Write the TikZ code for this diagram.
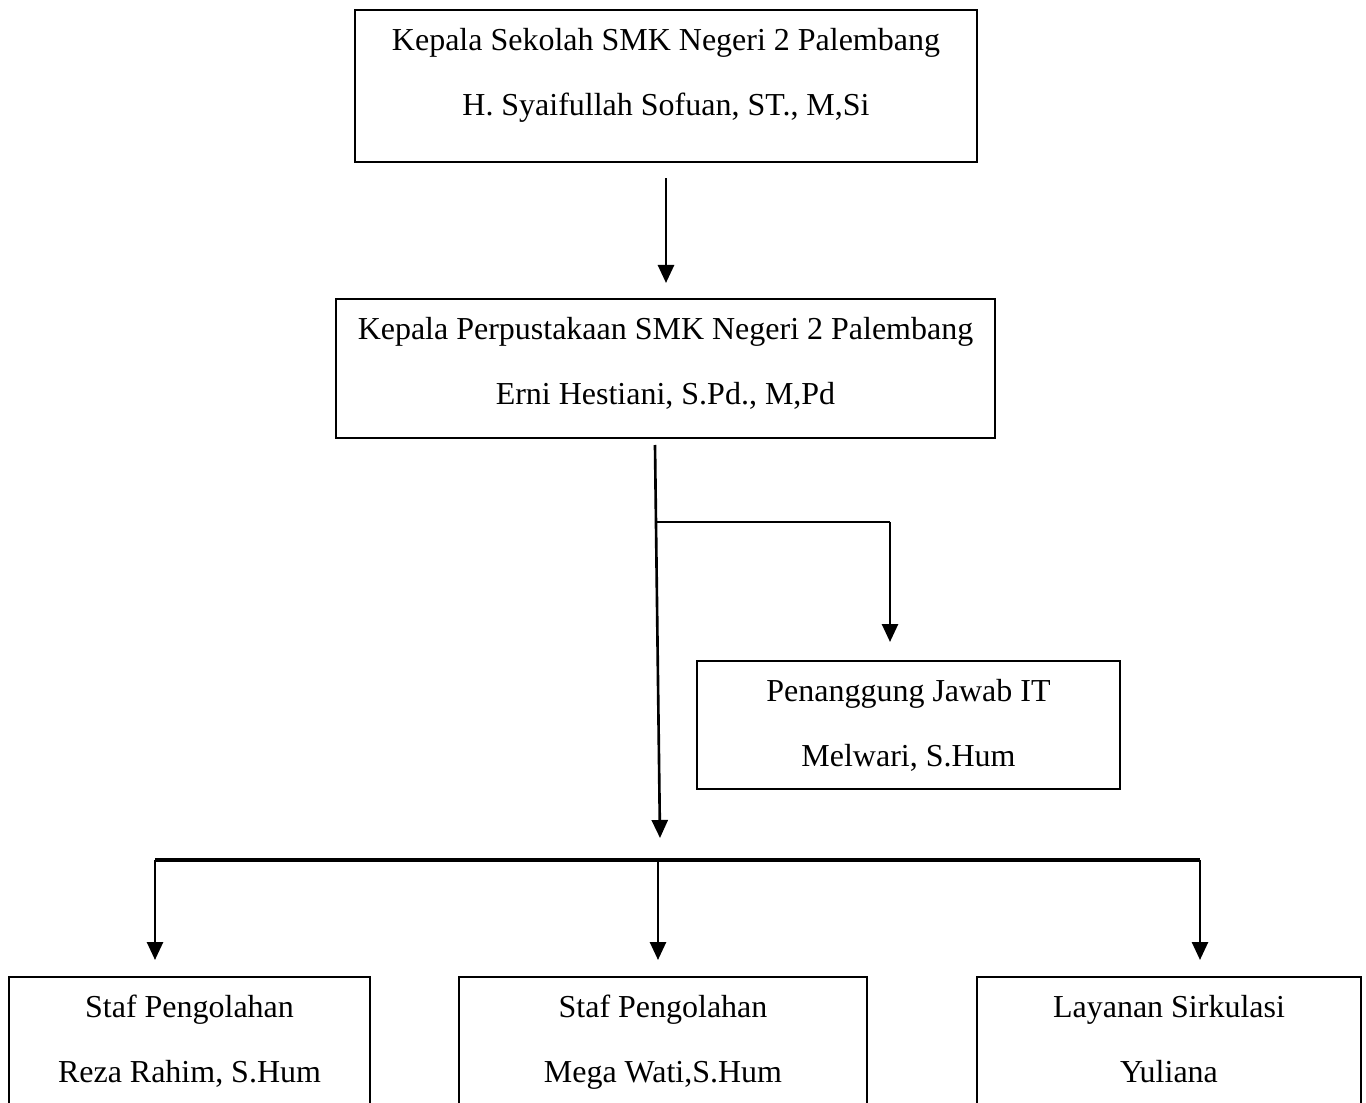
\documentclass[tikz,border=0pt]{standalone}
\usepackage{fontspec}
\setmainfont{Liberation Serif}
\usetikzlibrary{arrows.meta,calc}

\begin{document}
\begin{tikzpicture}[every node/.style={
    rectangle,
    draw,
    line width=1.2pt,
    align=center,
    anchor=north,
    inner ysep=0.3cm,
    text height=1.805cm,
    font=\fontsize{18.2}{37}\selectfont
},
arrowline/.style={-{Triangle[length=0.36cm,width=0.32cm]}, line width=1.5pt},
plainline/.style={line width=1.5pt},
barline/.style={line width=1.9pt}]
    \useasboundingbox (0,0) rectangle (27.32,-22.06);

    %pimpinan
    \node (kepala_sekolah) [minimum width=12.44cm, text depth=0.64cm, shift={(13.32, -0.18)}]
    {
        Kepala Sekolah SMK Negeri 2 Palembang\\
        H. Syaifullah Sofuan, ST., M,Si
    };
    \node (kepala_perpus) [minimum width=13.18cm, text depth=0.38cm, shift={(13.31, -5.96)}]
    {
        Kepala Perpustakaan SMK Negeri 2 Palembang\\
        Erni Hestiani, S.Pd., M,Pd
    };

    %penanggung jawab
    \node (penanggung_it) [minimum width=8.46cm, text depth=0.16cm, shift={(18.17, -13.2)}]
    {
        Penanggung Jawab IT\\
        Melwari, S.Hum
    };

    %staf
    \node (staf_reza) [minimum width=7.22cm, text depth=1.28cm, shift={(3.79, -19.52)}]
    {
        Staf Pengolahan\\
        Reza Rahim, S.Hum
    };
    \node (staf_mega) [minimum width=8.16cm, text depth=1.28cm, shift={(13.26, -19.52)}]
    {
        Staf Pengolahan\\
        Mega Wati,S.Hum
    };
    \node (layanan_yuliana) [minimum width=7.68cm, text depth=1.28cm, shift={(23.38, -19.52)}]
    {
        Layanan Sirkulasi\\
        Yuliana
    };

    %titik bantu
    \coordinate (turun_atas) at (13.10, -8.90);
    \coordinate (cabang) at (13.12, -10.44);
    \coordinate (cabang_it) at (17.80, -10.44);
    \coordinate (turun_bawah) at (13.20, -16.76);
    \coordinate (bagi_kiri) at (3.10, -17.20);
    \coordinate (bagi_tengah) at (13.16, -17.20);
    \coordinate (bagi_kanan) at (24.00, -17.20);

    %garis
    \draw[arrowline, shorten <=0.3cm, shorten >=0.3cm] (kepala_sekolah.south) to (kepala_sekolah.south |- kepala_perpus.north);

    \draw[arrowline] (turun_atas) to (turun_bawah);
    \draw[plainline] (cabang) to (cabang_it);
    \draw[arrowline, shorten >=0.36cm] (cabang_it) to (cabang_it |- penanggung_it.north);

    \draw[barline] (bagi_kiri) to (bagi_kanan);
    \draw[arrowline, shorten >=0.32cm] (bagi_kiri) to (bagi_kiri |- staf_reza.north);
    \draw[arrowline, shorten >=0.32cm] (bagi_tengah) to (bagi_tengah |- staf_mega.north);
    \draw[arrowline, shorten >=0.32cm] (bagi_kanan) to (bagi_kanan |- layanan_yuliana.north);

\end{tikzpicture}
\end{document}
